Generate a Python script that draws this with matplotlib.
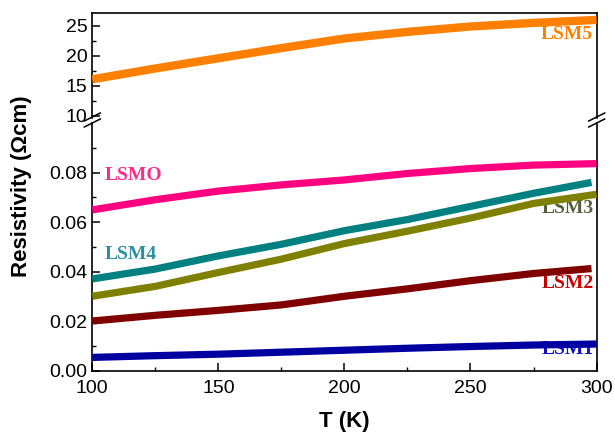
import matplotlib.pyplot as plt
from matplotlib.lines import Line2D
from matplotlib.ticker import MultipleLocator, FixedLocator

# Data
T = [100, 125, 150, 175, 200, 225, 250, 275, 300]
lsm5 = [16.1, 17.9, 19.6, 21.3, 22.9, 24.0, 24.9, 25.5, 26.0]
lsmo = [0.0649, 0.0690, 0.0725, 0.0750, 0.0770, 0.0796, 0.0816, 0.0830, 0.0836]
lsm4 = [0.0370, 0.0410, 0.0463, 0.0510, 0.0565, 0.0610, 0.0663, 0.0716, 0.0760]
lsm3 = [0.0300, 0.0340, 0.0396, 0.0450, 0.0513, 0.0563, 0.0616, 0.0675, 0.0712]
lsm2 = [0.0200, 0.0223, 0.0243, 0.0265, 0.0300, 0.0330, 0.0363, 0.0392, 0.0412]
lsm1 = [0.0053, 0.0060, 0.0066, 0.0074, 0.0082, 0.0090, 0.0097, 0.0103, 0.0107]

x_ticks = [100, 150, 200, 250, 300]
top_ticks = [10, 15, 20, 25]
bottom_ticks = [0.00, 0.02, 0.04, 0.06, 0.08]

plt.rcParams['font.family'] = 'Liberation Sans'

fig = plt.figure(figsize=(6.15, 4.33), dpi=100)
ax_top = fig.add_axes([0.150, 0.7282, 0.820, 0.2425])
ax_bot = fig.add_axes([0.150, 0.1443, 0.820, 0.5716])

lw = 5.2
ax_top.plot(T, lsm5, color='#FF8000', lw=6.0, solid_capstyle='butt', zorder=3)
ax_bot.plot(T, lsmo, color='#FF0080', lw=lw, solid_capstyle='butt', zorder=3)
ax_bot.plot(T[:-1] + [298], lsm4, color='#008080', lw=lw, solid_capstyle='butt', zorder=3)
ax_bot.plot(T, lsm3, color='#808000', lw=lw, solid_capstyle='butt', zorder=3)
ax_bot.plot(T[:-1] + [298], lsm2, color='#800000', lw=lw, solid_capstyle='butt', zorder=3)
ax_bot.plot(T, lsm1, color='#0000A0', lw=lw, solid_capstyle='butt', zorder=3)

# curve labels
lab = dict(family='Liberation Serif', fontweight='bold', fontsize=14, zorder=1)
ax_top.text(298.5, 23.5, 'LSM5', color='#FF8000', ha='right', va='center', **lab)
ax_bot.text(105, 0.0786, 'LSMO', color='#FF2A8A', ha='left', va='center', **lab)
ax_bot.text(105, 0.0467, 'LSM4', color='#2E8FA0', ha='left', va='center', **lab)
ax_bot.text(299, 0.0655, 'LSM3', color='#55603A', ha='right', va='center', **lab)
ax_bot.text(299, 0.0352, 'LSM2', color='#CC0000', ha='right', va='center', **lab)
ax_bot.text(299, 0.0083, 'LSM1', color='#1010C0', ha='right', va='center', **lab)

for ax in (ax_top, ax_bot):
    ax.set_xlim(100, 300)
    for s in ax.spines.values():
        s.set_linewidth(1.2)
    ax.tick_params(direction='in', length=5.5, width=1.1, labelsize=14, right=False, top=False)
    ax.tick_params(which='minor', direction='in', length=3, width=1.0, right=False, top=False)
    ax.xaxis.set_minor_locator(MultipleLocator(25))

ax_top.set_ylim(9.7, 27.2)
ax_top.yaxis.set_major_locator(FixedLocator(top_ticks))
ax_top.yaxis.set_minor_locator(FixedLocator([12.5, 17.5, 22.5]))
ax_top.spines['bottom'].set_visible(False)
ax_top.tick_params(axis='x', which='both', bottom=False, labelbottom=False)

ax_bot.set_ylim(0, 0.1)
ax_bot.yaxis.set_major_locator(FixedLocator(bottom_ticks))
ax_bot.yaxis.set_minor_locator(FixedLocator([0.01, 0.03, 0.05, 0.07, 0.09]))
ax_bot.set_yticklabels(['%.2f' % v for v in bottom_ticks])
ax_bot.spines['top'].set_visible(False)
ax_bot.xaxis.set_major_locator(FixedLocator(x_ticks))
ax_bot.tick_params(axis='x', pad=7)

ax_bot.set_xlabel('T (K)', fontsize=16, fontweight='bold', labelpad=10)
fig.text(0.035, 0.57, 'Resistivity (\u03a9cm)', rotation=90, fontsize=16,
         fontweight='bold', ha='center', va='center')

# axis break marks (figure pixel coords converted to fractions)
W, H = 615.0, 433.0
for xc in (92.3, 596.7):
    for yc in (117.0, 123.0):
        fig.add_artist(Line2D([(xc - 8) / W, (xc + 8) / W],
                              [1 - (yc + 4) / H, 1 - (yc - 4) / H],
                              color='black', lw=1.1))

fig.savefig('out.png', dpi=100)
